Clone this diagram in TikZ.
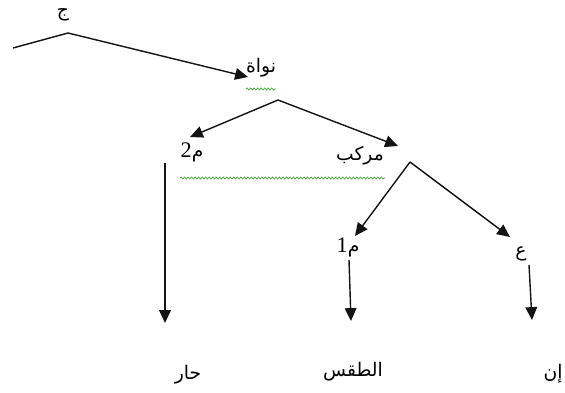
\documentclass[tikz,border=0pt]{standalone}
\usepackage{fontspec}
\usepackage{tikz}
\usetikzlibrary{arrows.meta, decorations.pathmorphing}
\setmainfont{Liberation Serif}
\newfontfamily\arabicfont[Script=Arabic]{DejaVu Sans}
\TeXXeTstate=1
\definecolor{TreeInk}{RGB}{20, 20, 20}
\definecolor{SpellGreen}{RGB}{70, 170, 60}

\tikzset{
  arlabel/.style={inner sep=0pt, text=black, font=\fontsize{16}{18}\selectfont\arabicfont},
  branch/.style={draw=TreeInk, line width=1.2pt, -{Triangle[length=11pt,width=10pt]}},
  squiggle/.style={draw=SpellGreen, line width=0.6pt, decorate,
    decoration={snake, segment length=3pt, amplitude=0.9pt}}
}

\begin{document}
\begin{tikzpicture}[x=0.03cm, y=-0.03cm]
    \useasboundingbox (0,0) rectangle (565,392);

    % labels of the tree
    \node[arlabel] (jim)   at (63,15)   {\beginR ج\endR};
    \node[arlabel] (nawa)  at (261,68)  {\beginR نواة\endR};
    \node[arlabel] (mim2)  at (192,152) {\beginR م\beginL{\rmfamily\fontsize{19}{20}\selectfont 2}\endL\endR};
    \node[arlabel] (murak) at (360,156) {\beginR مركب\endR};
    \node[arlabel] (mim1)  at (348,247) {\beginR م\beginL{\rmfamily\fontsize{19}{20}\selectfont 1}\endL\endR};
    \node[arlabel] (ayn)   at (521,254) {\beginR ع\endR};
    \node[arlabel] (har)   at (188,375) {\beginR حار\endR};
    \node[arlabel] (taqs)  at (353,372) {\beginR الطقس\endR};
    \node[arlabel] (inna)  at (553,374) {\beginR إن\endR};

    % branch points and arrow ends
    \coordinate (jimLeft) at (13,48);
    \coordinate (jimTop)  at (68,33);
    \coordinate (nawaIn)  at (248,77);
    \coordinate (nawaTop) at (278,100);
    \coordinate (mimIn)   at (190,137);
    \coordinate (murakIn) at (398,146);
    \coordinate (murakTop) at (410,162);
    \coordinate (mimOneIn) at (355,236);
    \coordinate (aynIn)   at (510,237);
    \coordinate (harIn)   at (165,323);
    \coordinate (taqsIn)  at (351,321);
    \coordinate (innaIn)  at (532,320);

    \draw[branch] (jimLeft) -- (jimTop) -- (nawaIn);
    \draw[branch] (nawaTop) -- (mimIn);
    \draw[branch] (nawaTop) -- (murakIn);
    \draw[branch] (murakTop) -- (mimOneIn);
    \draw[branch] (murakTop) -- (aynIn);
    \draw[branch] (165,163) -- (harIn);
    \draw[branch] (349,260) -- (taqsIn);
    \draw[branch] (529,265) -- (innaIn);

    % green underlines
    \draw[squiggle] (246,89) -- (276,89);
    \draw[squiggle] (180,178) -- (385,178);
  \end{tikzpicture}
\end{document}
